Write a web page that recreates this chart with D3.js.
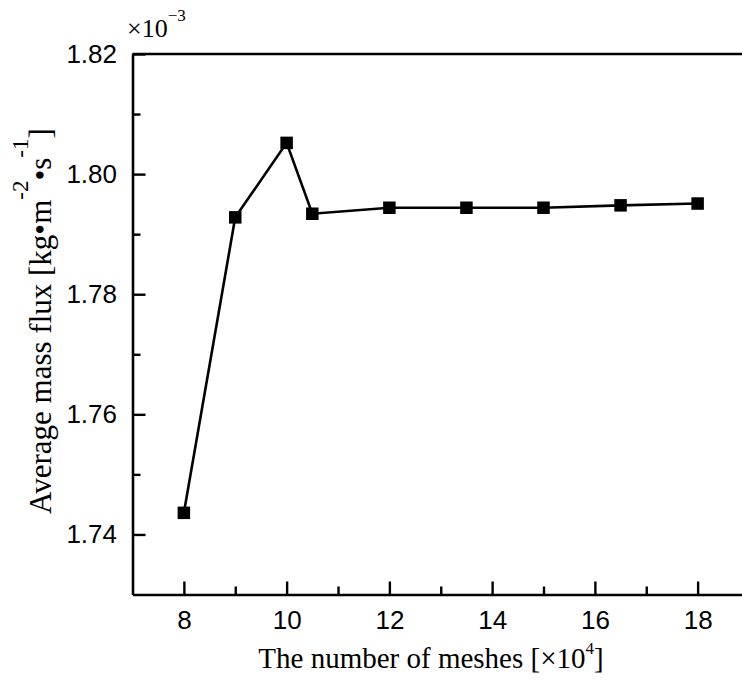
<!DOCTYPE html>
<html>
<head>
<meta charset="utf-8">
<script src="https://cdn.jsdelivr.net/npm/d3@7"></script>
<style>
  html, body { margin: 0; padding: 0; background: #fff; }
  svg { display: block; }
  .tick text { font-family: "Liberation Sans", Arial, sans-serif; font-size: 26px; fill: #000; }
  .title { font-family: "Liberation Serif", "Times New Roman", serif; fill: #000; }
</style>
</head>
<body>
<svg id="chart" width="742" height="683"></svg>
<script>
// Mesh count (×10^4) and the resulting average mass flux (×10^-3 kg·m^-2·s^-1)
const meshes = [8, 9, 10, 10.5, 12, 13.5, 15, 16.5, 18];
const massFlux = [1.7436, 1.7928, 1.8052, 1.7934, 1.7944, 1.7944, 1.7944, 1.7948, 1.7951];

const xMajorTicks = [8, 10, 12, 14, 16, 18];
const xMinorTicks = [9, 11, 13, 15, 17];
const yMajorTicks = [1.74, 1.76, 1.78, 1.80, 1.82];
const yMinorTicks = [1.75, 1.77, 1.79, 1.81];

const svg = d3.select("#chart");
const W = 742, H = 683;
svg.append("rect").attr("width", W).attr("height", H).attr("fill", "#fff");

const plotLeft = 132.5, plotRight = 749, plotTop = 54, plotBottom = 594.5;

const x = d3.scaleLinear().domain([7, 19]).range([plotLeft, plotRight]);
const y = d3.scaleLinear().domain([1.73, 1.82]).range([plotBottom, plotTop]);

const axisStroke = 2.6;

// frame: top edge
svg.append("line")
  .attr("x1", x(7)).attr("x2", x(19))
  .attr("y1", y(1.82)).attr("y2", y(1.82))
  .attr("stroke", "#000").attr("stroke-width", axisStroke);

// bottom axis, ticks pointing inward
const gx = svg.append("g").attr("transform", `translate(0,${plotBottom})`);
gx.call(d3.axisBottom(x).tickValues(xMajorTicks).tickSizeInner(-13).tickSizeOuter(0)
  .tickPadding(16).tickFormat(d3.format("d")));
const gxm = svg.append("g").attr("transform", `translate(0,${plotBottom})`);
gxm.call(d3.axisBottom(x).tickValues(xMinorTicks).tickSizeInner(-8).tickSizeOuter(0).tickFormat(""));
gxm.select(".domain").remove();

// left axis, ticks pointing inward
const gy = svg.append("g").attr("transform", `translate(${plotLeft},0)`);
gy.call(d3.axisLeft(y).tickValues(yMajorTicks).tickSizeInner(-13).tickSizeOuter(0)
  .tickPadding(15.5).tickFormat(d3.format(".2f")));
const gym = svg.append("g").attr("transform", `translate(${plotLeft},0)`);
gym.call(d3.axisLeft(y).tickValues(yMinorTicks).tickSizeInner(-8).tickSizeOuter(0).tickFormat(""));
gym.select(".domain").remove();

svg.selectAll(".domain").attr("stroke", "#000").attr("stroke-width", axisStroke);
svg.selectAll(".tick line").attr("stroke", "#000").attr("stroke-width", 2.4);
gx.selectAll(".tick text").attr("dy", "0.71em");

// data line
const line = d3.line().x((d, i) => x(meshes[i])).y(d => y(d));
svg.append("path")
  .datum(massFlux)
  .attr("d", line)
  .attr("fill", "none")
  .attr("stroke", "#000")
  .attr("stroke-width", 2.6)
  .attr("stroke-linejoin", "miter");

// square markers
const ms = 12.5;
svg.append("g").selectAll("rect")
  .data(massFlux)
  .join("rect")
  .attr("x", (d, i) => x(meshes[i]) - ms / 2)
  .attr("y", d => y(d) - ms / 2)
  .attr("width", ms)
  .attr("height", ms)
  .attr("fill", "#000");

// axis multiplier
const mult = svg.append("text").attr("class", "title")
  .attr("x", 127).attr("y", 37).style("font-size", "26px");
mult.append("tspan").text("×10");
mult.append("tspan").attr("dy", -16).style("font-size", "17px").text("−3");

// x-axis title
const xt = svg.append("text").attr("class", "title")
  .attr("x", 431).attr("y", 668).attr("text-anchor", "middle").style("font-size", "29px");
xt.append("tspan").text("The number of meshes [×10");
xt.append("tspan").attr("dy", -14).style("font-size", "17px").text("4");
xt.append("tspan").attr("dy", 14).text("]");

// y-axis title
const yt = svg.append("text").attr("class", "title")
  .attr("transform", "translate(51,321) rotate(-90)")
  .attr("text-anchor", "middle").style("font-size", "31px");
yt.append("tspan").text("Average mass flux [kg•m");
yt.append("tspan").attr("dy", -23).style("font-size", "23px").text("-2");
yt.append("tspan").attr("dy", 23).text("•s");
yt.append("tspan").attr("dy", -23).style("font-size", "23px").text("-1");
yt.append("tspan").attr("dy", 23).text("]");
</script>
</body>
</html>
